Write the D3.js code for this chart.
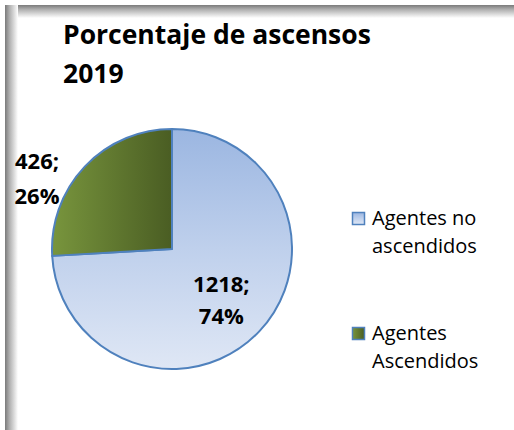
<!DOCTYPE html>
<html>
<head>
<meta charset="utf-8">
<script src="https://cdn.jsdelivr.net/npm/d3@7"></script>
<style>
  body { margin: 0; background: #fff; }
  svg { display: block; }
  text { font-family: "Open Sans", sans-serif; fill: #000; }
</style>
</head>
<body>
<svg></svg>
<script>
let width = 514;
let height = 430;

// chart data
let titleLines = ["Porcentaje de ascensos", "2019"];
let categories = ["Agentes no ascendidos", "Agentes Ascendidos"];
let values = [1218, 426];
let legendLines = [["Agentes no", "ascendidos"], ["Agentes", "Ascendidos"]];

let cx = 172, cy = 249, radius = 120;
let total = d3.sum(values);

let svg = d3.select("svg")
    .attr("width", width)
    .attr("height", height);

let defs = svg.append("defs");

function linGrad(id, x2, y2, stops) {
    let g = defs.append("linearGradient")
        .attr("id", id)
        .attr("x1", 0).attr("y1", 0)
        .attr("x2", x2).attr("y2", y2);
    stops.forEach(s => g.append("stop").attr("offset", s[0]).attr("stop-color", s[1]));
}

linGrad("shadowLeft", 1, 0, [[0, "#7a7a7a"], [0.35, "#b0b0b0"], [1, "#ffffff"]]);
linGrad("shadowTop", 0, 1, [[0, "#7a7a7a"], [0.35, "#b0b0b0"], [1, "#ffffff"]]);
linGrad("gradBlue", 0, 1, [[0, "#9bb6e1"], [0.5, "#bfd0ec"], [1, "#dfe7f5"]]);
linGrad("gradGreen", 1, 0, [[0, "#78953d"], [1, "#4a5d23"]]);
let fills = ["url(#gradBlue)", "url(#gradGreen)"];

// frame shadow (top and left)
svg.append("rect")
    .attr("x", 5).attr("y", 5)
    .attr("width", width - 5).attr("height", 13)
    .attr("fill", "url(#shadowTop)");

svg.append("rect")
    .attr("x", 5).attr("y", 5)
    .attr("width", 13).attr("height", height - 5)
    .attr("fill", "url(#shadowLeft)");

// title
svg.append("text")
    .attr("x", 63)
    .attr("y", 44)
    .style("font-size", "26.5px")
    .style("font-weight", "bold")
    .selectAll("tspan")
    .data(titleLines)
    .enter()
    .append("tspan")
    .attr("x", 63)
    .attr("dy", (d, i) => i === 0 ? 0 : 39)
    .text(d => d);

// pie
let pie = d3.pie().sort(null).value(d => d);
let arcs = pie(values);

let arc = d3.arc().innerRadius(0).outerRadius(radius);
let labelArc = d3.arc().innerRadius(72).outerRadius(72);

let g = svg.append("g")
    .attr("transform", "translate(" + cx + "," + cy + ")");

g.selectAll("path")
    .data(arcs)
    .enter()
    .append("path")
    .attr("d", arc)
    .attr("fill", (d, i) => fills[i])
    .attr("stroke", "#4f81bd")
    .attr("stroke-width", 2)
    .attr("stroke-linejoin", "round");

// data labels: big slice inside, small slice outside to the left
let labels = g.selectAll(".dlabel")
    .data(arcs)
    .enter()
    .append("text")
    .attr("class", "dlabel")
    .style("font-size", "22px")
    .style("font-weight", "bold")
    .attr("text-anchor", "middle");

labels.each(function(d, i) {
    let p = i === 0 ? labelArc.centroid(d) : [-radius - 15, -71];
    let pct = Math.round(d.value / total * 100) + "%";
    let t = d3.select(this);
    let x = i === 0 ? p[0] - 3 : p[0];
    let baseY = i === 0 ? p[1] - 6 : p[1] - 9;
    t.append("tspan").attr("x", x).attr("y", baseY).text(d.value + ";");
    t.append("tspan").attr("x", x).attr("y", baseY + (i === 0 ? 32 : 35)).text(pct);
});

// legend
let legend = svg.selectAll(".legend")
    .data(categories)
    .enter()
    .append("g")
    .attr("class", "legend")
    .attr("transform", (d, i) => "translate(352," + (212 + i * 115) + ")");

legend.append("rect")
    .attr("x", 0.5).attr("y", 0.5)
    .attr("width", 12).attr("height", 12)
    .attr("fill", (d, i) => fills[i])
    .attr("stroke", "#4f81bd")
    .attr("stroke-width", 1.5);

legend.append("text")
    .style("font-size", "20px")
    .selectAll("tspan")
    .data((d, i) => legendLines[i])
    .enter()
    .append("tspan")
    .attr("x", 20)
    .attr("y", (d, i) => 13 + i * 28)
    .text(d => d);
</script>
</body>
</html>
